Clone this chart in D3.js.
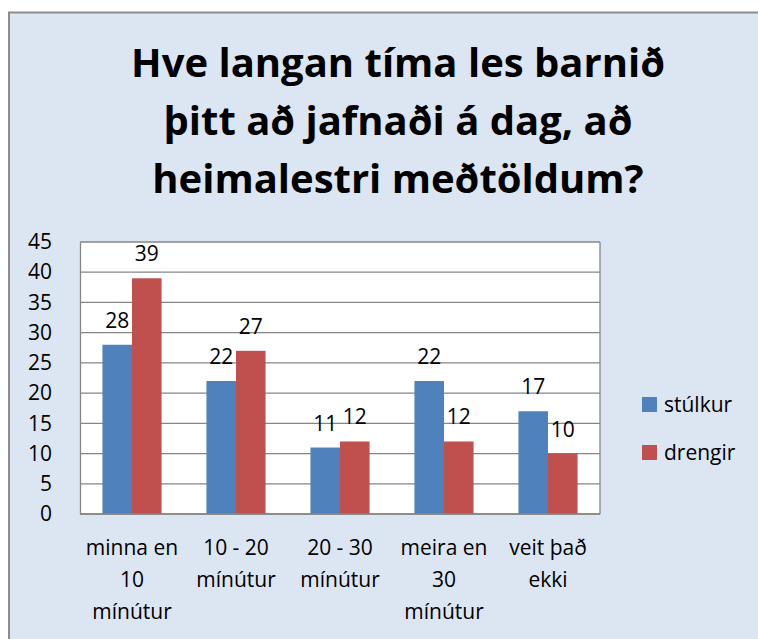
<!DOCTYPE html>
<html>
<head>
<meta charset="utf-8">
<script src="https://cdn.jsdelivr.net/npm/d3@7"></script>
<style>
body { margin: 0; background: #fff; }
svg { display: block; }
</style>
</head>
<body>
<svg width="758" height="639"></svg>
<script>
var categories = [["minna en", "10", "mínútur"], ["10 - 20", "mínútur"], ["20 - 30", "mínútur"], ["meira en", "30", "mínútur"], ["veit það", "ekki"]];
var seriesNames = ["stúlkur", "drengir"];
var stulkur = [28, 22, 11, 22, 17];
var drengir = [39, 27, 12, 12, 10];
var yTicks = [0, 5, 10, 15, 20, 25, 30, 35, 40, 45];
var titleLines = ["Hve langan tíma les barnið", "þitt að jafnaði á dag, að", "heimalestri meðtöldum?"];
var colors = ["#4F81BD", "#C0504D"];

var svg = d3.select("svg");
var font = "'Open Sans', sans-serif";
var fs = 21;

// chart background + frame
svg.append("rect")
	.attr("x", 9).attr("y", 12.5)
	.attr("width", 800).attr("height", 700)
	.attr("fill", "#DCE6F2")
	.attr("stroke", "#8C8C8C").attr("stroke-width", 2);

svg.append("g").selectAll("text")
	.data(titleLines)
	.enter().append("text")
		.attr("x", 398)
		.attr("y", function(d, i) { return 77 + i * 58; })
		.attr("text-anchor", "middle")
		.attr("font-family", font)
		.attr("font-weight", "bold")
		.attr("font-size", 40)
		.attr("fill", "#000")
		.text(function(d) { return d; });

var pl = 80, pr = 600, pt = 242, pb = 514;

var x = d3.scaleBand().domain(d3.range(categories.length)).range([pl, pr]);
var x1 = d3.scaleBand().domain([0, 1]).range([0, x.bandwidth()]).paddingOuter(0.76);
var y = d3.scaleLinear().domain([0, 45]).range([pb, pt]);

svg.append("rect")
	.attr("x", pl).attr("y", pt)
	.attr("width", pr - pl).attr("height", pb - pt)
	.attr("fill", "#fff");

// gridlines
svg.append("g").selectAll("line")
	.data(yTicks)
	.enter().append("line")
		.attr("x1", pl).attr("x2", pr)
		.attr("y1", function(d) { return y(d); })
		.attr("y2", function(d) { return y(d); })
		.attr("stroke", "#868686").attr("stroke-width", 1.3);

var yAxis = svg.append("g")
	.attr("transform", "translate(" + pl + ",0)")
	.call(d3.axisLeft(y).tickValues(yTicks).tickSize(0).tickPadding(28));
yAxis.select(".domain").attr("stroke", "#868686").attr("stroke-width", 1.3);
yAxis.selectAll("text")
	.attr("font-family", font).attr("font-size", fs).attr("fill", "#000");

svg.append("line")
	.attr("x1", pr).attr("x2", pr).attr("y1", pt).attr("y2", pb)
	.attr("stroke", "#868686").attr("stroke-width", 1.3);

var data = [stulkur, drengir];
data.forEach(function(vals, s) {
	var g = svg.append("g");
	g.selectAll("rect")
		.data(vals)
		.enter().append("rect")
			.attr("x", function(d, i) { return x(i) + x1(s); })
			.attr("y", function(d) { return y(d); })
			.attr("width", x1.bandwidth())
			.attr("height", function(d) { return pb - y(d); })
			.attr("fill", colors[s]);
	g.selectAll("text")
		.data(vals)
		.enter().append("text")
			.attr("x", function(d, i) { return x(i) + x1(s) + x1.bandwidth() / 2; })
			.attr("y", function(d) { return y(d) - 17; })
			.attr("text-anchor", "middle")
			.attr("font-family", font).attr("font-size", fs)
			.text(function(d) { return d; });
});

svg.append("line")
	.attr("x1", pl).attr("x2", pr).attr("y1", pb).attr("y2", pb)
	.attr("stroke", "#868686").attr("stroke-width", 1.3);

// category labels
var cat = svg.append("g").selectAll("text")
	.data(categories)
	.enter().append("text")
		.attr("text-anchor", "middle")
		.attr("font-family", font).attr("font-size", fs);
cat.selectAll("tspan")
	.data(function(d, i) { return d.map(function(t) { return { t: t, i: i }; }); })
	.enter().append("tspan")
		.attr("x", function(d) { return x(d.i) + x.bandwidth() / 2; })
		.attr("y", function(d, j) { return 555 + j * 32; })
		.text(function(d) { return d.t; });

// legend
var leg = svg.append("g").selectAll("g")
	.data(seriesNames)
	.enter().append("g")
		.attr("transform", function(d, i) { return "translate(642," + (397 + i * 48) + ")"; });
leg.append("rect").attr("width", 15).attr("height", 15)
	.attr("fill", function(d, i) { return colors[i]; });
leg.append("text").attr("x", 22).attr("y", 15)
	.attr("font-family", font).attr("font-size", fs)
	.text(function(d) { return d; });
</script>
</body>
</html>
